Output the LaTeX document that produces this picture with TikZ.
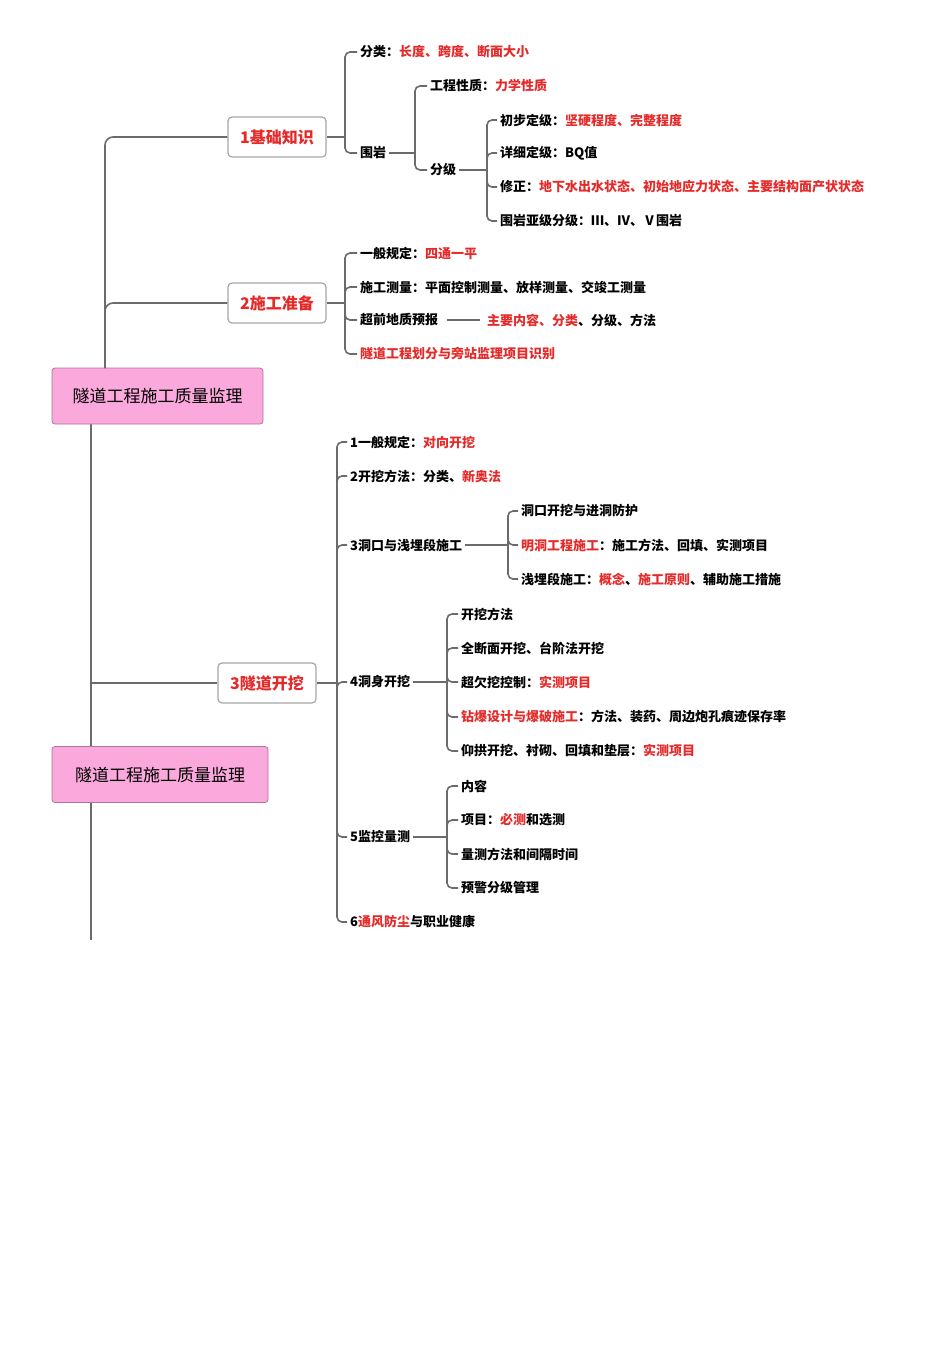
\documentclass[tikz,border=0pt]{standalone}
\usepackage{fontspec}
\setmainfont{Noto Sans CJK SC}
\usepackage{xcolor}
\usetikzlibrary{positioning}
\definecolor{mapred}{HTML}{E52A2A}
\definecolor{mapline}{HTML}{6B6B6B}
\definecolor{rootpink}{HTML}{FBA8DC}
\newcommand\rt[1]{\textcolor{mapred}{#1}}
% fork from a parent to one child
\newcommand\fork[3]{\draw[link, rounded corners=5] (#2,0 |- #1.east) |- (#3.west);}
\newcommand\stem[2]{\draw[link] (#1.east) -- (#2,0 |- #1.east);}

\begin{document}
\begin{tikzpicture}[
    x=1pt, y=-1pt,
    link/.style={draw=mapline, line width=1.6pt},
    leaf/.style={anchor=west, inner sep=3pt, font=\fontsize{13}{15}\selectfont\bfseries},
    topic/.style={draw=gray!70, line width=1.2pt, rounded corners=4pt, fill=white, minimum width=98, minimum height=40, font=\fontsize{16}{18}\selectfont\bfseries, text=mapred},
    root/.style={draw=rootpink!70!black, line width=0.8pt, rounded corners=3pt, fill=rootpink, minimum height=56, font=\fontsize{17}{19}\selectfont}
]
\useasboundingbox (0,0) rectangle (950,1345);

% === trunks ===
\coordinate (t1) at (105,368);
\coordinate (t2) at (91,424);
\coordinate (tend) at (91,940);
\draw[link] (t2) -- (tend);

% === ROOTS ===
\node[root, minimum width=211] (rootA) at (157.5,396) {隧道工程施工质量监理};
\node[root, minimum width=216] (rootB) at (160,774.5) {隧道工程施工质量监理};

% === TOPICS ===
\node[topic] (basic) at (277,137) {1基础知识};
\node[topic] (prep) at (277,303) {2施工准备};
\node[topic] (dig) at (267,683) {3隧道开挖};

\draw[link, rounded corners=8] (t1) |- (basic.west);
\draw[link, rounded corners=8] (t1) |- (prep.west);
\draw[link] (91,683) -- (dig.west);

% === 1 基础知识 ===
\node[leaf] (cls) at (357,52) {分类：\rt{长度、跨度、断面大小}};
\node[leaf] (rock) at (357,153) {围岩};
\node[leaf] (prop) at (427,86) {工程性质：\rt{力学性质}};
\node[leaf] (grade) at (427,170) {分级};
\node[leaf] (g1) at (497,120) {初步定级：\rt{坚硬程度、完整程度}};
\node[leaf] (g2) at (497,153) {详细定级：BQ值};
\node[leaf] (g3) at (497,187) {修正：\rt{地下水出水状态、初始地应力状态、主要结构面产状状态}};
\node[leaf] (g4) at (497,221) {围岩亚级分级：Ⅲ、Ⅳ、Ⅴ围岩};

\stem{basic}{345}
\fork{basic}{345}{cls}
\fork{basic}{345}{rock}
\stem{rock}{415}
\fork{rock}{415}{prop}
\fork{rock}{415}{grade}
\stem{grade}{487}
\foreach \g in {g1,g2,g3,g4} {\fork{grade}{487}{\g}}

% === 2 施工准备 ===
\node[leaf] (rule) at (357,253) {一般规定：\rt{四通一平}};
\node[leaf] (survey) at (357,287) {施工测量：平面控制测量、放样测量、交竣工测量};
\node[leaf] (fore) at (357,320) {超前地质预报};
\node[leaf] (foreitems) at (484,320) {\rt{主要内容、分类}、分级、方法};
\node[leaf] (split) at (357,354) {\rt{隧道工程划分与旁站监理项目识别}};

\stem{prep}{345}
\foreach \c in {rule,survey,fore,split} {\fork{prep}{345}{\c}}
\draw[link] ([xshift=6]fore.east) -- ([xshift=-4]foreitems.west);

% === 3 隧道开挖 ===
\node[leaf] (d1) at (347,442) {1一般规定：\rt{对向开挖}};
\node[leaf] (d2) at (347,476) {2开挖方法：分类、\rt{新奥法}};
\node[leaf] (d3) at (347,545) {3洞口与浅埋段施工};
\node[leaf] (d4) at (347,682) {4洞身开挖};
\node[leaf] (d5) at (347,837) {5监控量测};
\node[leaf] (d6) at (347,922) {6\rt{通风防尘}与职业健康};

\stem{dig}{337}
\foreach \c in {d1,d2,d3,d4,d5,d6} {\fork{dig}{337}{\c}}

% portal and shallow section
\node[leaf] (p1) at (518,511) {洞口开挖与进洞防护};
\node[leaf] (p2) at (518,545) {\rt{明洞工程施工}：施工方法、回填、实测项目};
\node[leaf] (p3) at (518,579) {浅埋段施工：\rt{概念}、\rt{施工原则}、辅助施工措施};
\stem{d3}{508}
\foreach \c in {p1,p2,p3} {\fork{d3}{508}{\c}}

% tunnel body excavation
\node[leaf] (b1) at (458,614) {开挖方法};
\node[leaf] (b2) at (458,648) {全断面开挖、台阶法开挖};
\node[leaf] (b3) at (458,682) {超欠挖控制：\rt{实测项目}};
\node[leaf] (b4) at (458,717) {\rt{钻爆设计与爆破施工}：方法、装药、周边炮孔痕迹保存率};
\node[leaf] (b5) at (458,751) {仰拱开挖、衬砌、回填和垫层：\rt{实测项目}};
\stem{d4}{447}
\foreach \c in {b1,b2,b3,b4,b5} {\fork{d4}{447}{\c}}

% monitoring
\node[leaf] (m1) at (458,786) {内容};
\node[leaf] (m2) at (458,820) {项目：\rt{必测}和选测};
\node[leaf] (m3) at (458,854) {量测方法和间隔时间};
\node[leaf] (m4) at (458,888) {预警分级管理};
\stem{d5}{447}
\foreach \c in {m1,m2,m3,m4} {\fork{d5}{447}{\c}}

\end{tikzpicture}
\end{document}
